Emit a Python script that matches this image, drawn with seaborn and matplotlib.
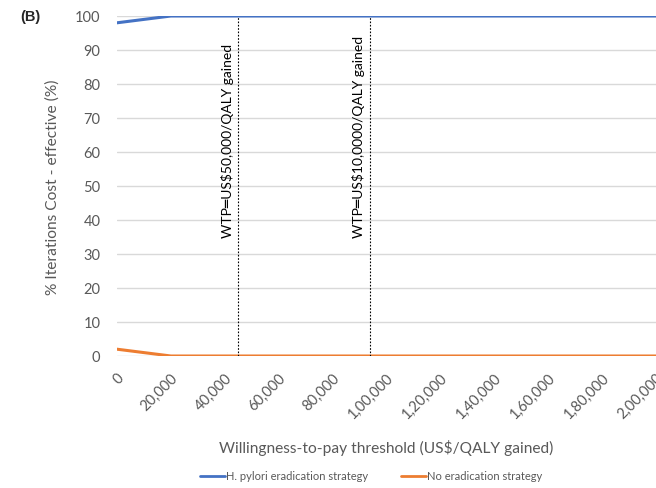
import matplotlib
matplotlib.use("Agg")
import matplotlib.pyplot as plt
import seaborn as sns
import pandas as pd
from matplotlib.lines import Line2D

categories = ["0", "20,000", "40,000", "60,000", "80,000", "1,00,000",
              "1,20,000", "1,40,000", "1,60,000", "1,80,000", "2,00,000"]
hpylori = [98, 100, 100, 100, 100, 100, 100, 100, 100, 100, 100]
no_erad = [2, 0, 0, 0, 0, 0, 0, 0, 0, 0, 0]
series_names = ["H. pylori eradication strategy", "No eradication strategy"]
wtp_lines = [2.25, 4.69]
wtp_labels = ["WTP═US$50,000/QALY gained", "WTP═US$10,0000/QALY gained"]

sns.set_style("white")
plt.rcParams['font.family'] = ['Lato', 'DejaVu Sans']

df = pd.DataFrame({
    "WTP": categories * 2,
    "pct": hpylori + no_erad,
    "Strategy": [series_names[0]] * len(categories) + [series_names[1]] * len(categories),
})

fig = plt.figure(figsize=(6.56, 4.89), dpi=100)
ax = fig.add_axes([117/656, 1 - 357/489, 539/656, 340/489])
palette = {series_names[0]: "#4472C4", series_names[1]: "#ED7D31"}
sns.lineplot(data=df, x="WTP", y="pct", hue="Strategy", palette=palette,
             linewidth=2.2, ax=ax, legend=False, sort=False)

ax.set_xlim(0, len(categories) - 1)
ax.set_ylim(0, 100)
ax.set_yticks(range(0, 101, 10))
ax.yaxis.grid(True, color="#D9D9D9", linewidth=1)
ax.set_axisbelow(True)
for s in ax.spines.values():
    s.set_visible(False)
ax.tick_params(axis="both", length=0, colors="#595959", labelsize=10.5)
ax.tick_params(axis="y", pad=12)
ax.set_xticks(range(len(categories)))
ax.set_xticklabels(categories, rotation=45, ha="right", rotation_mode="anchor")
ax.tick_params(axis="x", pad=10)

ax.set_xlabel("Willingness-to-pay threshold (US$/QALY gained)", fontsize=11.2,
              color="#595959", labelpad=13)
ax.set_ylabel("% Iterations Cost - effective (%)", fontsize=11.2,
              color="#595959", labelpad=11)

for xv, lab in zip(wtp_lines, wtp_labels):
    ax.vlines(xv, 0, 100, colors="black", linestyles=(0, (1.5, 1.5)), linewidth=0.8)
    ax.text(xv - 0.08, 35, lab, rotation=90, ha="right", va="bottom",
            fontsize=10, color="black")

handles = [Line2D([0], [0], color=palette[n], linewidth=2) for n in series_names]
fig.legend(handles, series_names, loc="center", bbox_to_anchor=(371/656, 1 - 477/489),
           ncol=2, frameon=False, fontsize=8, handlelength=2.2, handletextpad=0.1,
           columnspacing=3, labelcolor="#595959")

fig.text(20/656, 1 - 17/489, "(B)", fontsize=10.5, fontweight="bold",
         ha="left", va="center", family="Liberation Sans")

fig.savefig("out.png", dpi=100)
